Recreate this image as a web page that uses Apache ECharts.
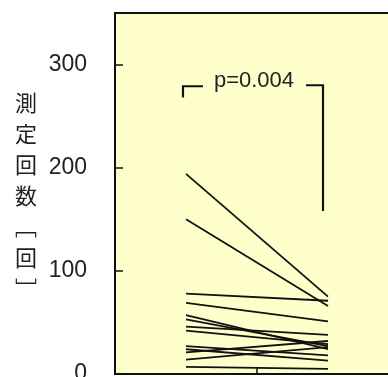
<!DOCTYPE html>
<html>
<head>
<meta charset="utf-8">
<script src="https://cdn.jsdelivr.net/npm/echarts@6/dist/echarts.min.js"></script>
<style>
html,body{margin:0;padding:0;background:#fff;}
#c{width:388px;height:377px;}
</style>
</head>
<body>
<div id="c"></div>
<script>
// data
var categories = ['前', '後'];
var before = [194, 150, 78, 69, 57, 53, 46, 42, 27, 24, 21, 14, 7];
var after  = [75, 66, 71, 51, 24, 27, 38, 29, 18, 13, 32, 26, 5];
var yTicks = [0, 100, 200, 300];
var yName = '測\n定\n回\n数\n﹇\n回\n﹈';
var pText = 'p=0.004';
var bracketLevel = 279, leftDrop = 268, rightDrop = 158, textLevel = 284;

var chart = echarts.init(document.getElementById('c'), null, {renderer: 'canvas'});
var series = before.map(function (b, i) {
  return {
    type: 'line',
    data: [b, after[i]],
    symbol: 'none',
    lineStyle: {color: '#111', width: 1.8},
    silent: true,
    animation: false
  };
});
var font = '"Liberation Sans", Arial, sans-serif';
chart.setOption({
  animation: false,
  grid: {left: 115, top: 13, right: -11, bottom: 3, show: true,
         outerBoundsMode: 'none', containLabel: false,
         backgroundColor: '#FFFFCC', borderColor: '#111', borderWidth: 2},
  xAxis: {
    type: 'category', data: categories, boundaryGap: true,
    axisLine: {lineStyle: {color: '#111', width: 2}},
    axisTick: {show: true, inside: true, length: 7, lineStyle: {color: '#111', width: 1.5}},
    axisLabel: {show: false}
  },
  yAxis: {
    type: 'value', min: 0, max: 350, interval: 100,
    splitLine: {show: false},
    axisLine: {show: true, lineStyle: {color: '#111', width: 2}},
    axisTick: {show: true, inside: true, length: 8, lineStyle: {color: '#111', width: 1.5},
               customValues: yTicks},
    axisLabel: {margin: 28, color: '#222', fontSize: 23, fontFamily: font, customValues: yTicks}
  },
  series: series
});

var P = function (ci, v) { return chart.convertToPixel({gridIndex: 0}, [ci, v]); };
var a = P(0, leftDrop), b = P(0, bracketLevel), c = P(1, bracketLevel), d = P(1, rightDrop);
var tx = (b[0] + c[0]) / 2;
var lx = b[0] - 3, rx = c[0] - 5;
chart.setOption({
  graphic: [
    {type: 'polyline', shape: {points: [[lx, a[1]], [lx, b[1]], [lx + 20, b[1]]]},
     style: {stroke: '#111', lineWidth: 2.2, fill: null}},
    {type: 'polyline', shape: {points: [[rx - 17, c[1] - 1], [rx, c[1] - 1], [rx, d[1]]]},
     style: {stroke: '#111', lineWidth: 2.2, fill: null}},
    {type: 'text', x: tx - 3, y: b[1] - 5,
     style: {text: pText, fill: '#222', font: '22px ' + font, textAlign: 'center', textVerticalAlign: 'middle'}},
    {type: 'text', x: 26, y: 196,
     style: {text: yName, fill: '#222', font: '22px "Noto Sans CJK JP"', lineHeight: 31,
             textAlign: 'center', textVerticalAlign: 'middle'}}
  ]
});
</script>
</body>
</html>
